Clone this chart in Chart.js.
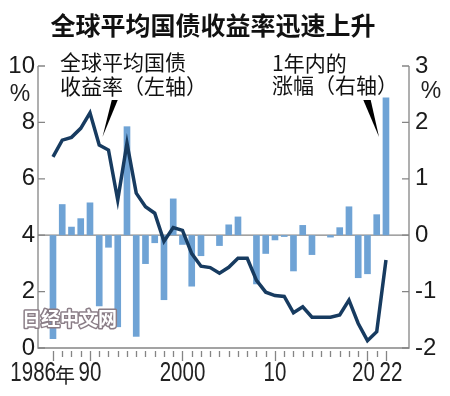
<!DOCTYPE html>
<html><head><meta charset="utf-8">
<script src="https://cdn.jsdelivr.net/npm/chart.js@4"></script>
<style>html,body{margin:0;padding:0;background:#fff}#wrap{width:450px;height:396px;position:relative}</style>
</head><body><div id="wrap"><canvas id="c" width="450" height="396"></canvas></div>
<script>
const years = [1986,1987,1988,1989,1990,1991,1992,1993,1994,1995,1996,1997,1998,1999,2000,2001,2002,2003,2004,2005,2006,2007,2008,2009,2010,2011,2012,2013,2014,2015,2016,2017,2018,2019,2020,2021,2022];
const yieldPct = [6.78,7.37,7.47,7.79,8.34,7.20,7.02,5.25,7.26,5.49,5.01,4.78,3.78,4.27,4.17,3.35,2.90,2.85,2.65,2.86,3.18,3.18,2.40,1.98,1.86,1.83,1.25,1.46,1.09,1.09,1.09,1.17,1.70,0.87,0.26,0.58,3.12];
const change = [-1.84,0.55,0.15,0.30,0.58,-1.26,-0.22,-1.63,1.93,-1.80,-0.51,-0.14,-1.15,0.65,-0.17,-0.91,-0.37,0,-0.19,0.19,0.33,0,-0.87,-0.33,-0.09,-0.03,-0.64,0.18,-0.35,0,-0.04,0.14,0.51,-0.76,-0.69,0.37,2.44];
const leftTicks = [0,2,4,6,8,10];
const rightTicks = [-2,-1,0,1,2,3];
const xLabelYears = [1986,1990,2000,2010,2020,2022];
const xLabelTexts = ['1986年','90','2000','10','20','22'];
const majorTickYears = [1986,1990,2000,2010,2020,2022];
const titleText = '全球平均国债收益率迅速上升';
const leftNote = ['全球平均国债','收益率（左轴）'];
const rightNote = ['1年内的','涨幅（右轴）'];
const watermark = '日经中文网';

const AXIS = '#858585';
const NUMFONT = '27px "Liberation Sans", sans-serif';
function condensedText(ctx, text, x, y, align, sx) {
  ctx.save();
  ctx.translate(x, y);
  ctx.scale(sx, 1);
  ctx.textAlign = align;
  ctx.fillText(text, 0, 0);
  ctx.restore();
}
const deco = {
  id: 'deco',
  beforeDatasetsDraw(chart) {
    const {ctx, chartArea: a, scales} = chart;
    const y0 = scales.y1.getPixelForValue(0);
    ctx.save();
    ctx.strokeStyle = AXIS; ctx.lineWidth = 1.3;
    ctx.beginPath(); ctx.moveTo(a.left, y0); ctx.lineTo(a.right, y0); ctx.stroke();
    ctx.restore();
  },
  afterDraw(chart) {
    const {ctx, chartArea: a, scales} = chart;
    const X = scales.x, Y = scales.y, Y1 = scales.y1;
    ctx.save();
    ctx.strokeStyle = AXIS; ctx.lineWidth = 1.3;
    ctx.beginPath();
    ctx.moveTo(a.left, a.top); ctx.lineTo(a.left, a.bottom); ctx.lineTo(a.right, a.bottom); ctx.lineTo(a.right, a.top);
    ctx.stroke();
    ctx.beginPath();
    leftTicks.forEach(v => { const p = Y.getPixelForValue(v); ctx.moveTo(a.left, p); ctx.lineTo(a.left + 7, p); });
    rightTicks.forEach(v => { const p = Y1.getPixelForValue(v); ctx.moveTo(a.right - 7, p); ctx.lineTo(a.right, p); });
    ctx.stroke();
    ctx.beginPath();
    years.forEach(yr => {
      const p = Math.round(X.getPixelForValue(yr)) + 0.5;
      const major = majorTickYears.includes(yr);
      ctx.moveTo(p, a.bottom + 3); ctx.lineTo(p, a.bottom + (major ? 13 : 9));
    });
    ctx.stroke();
    ctx.fillStyle = '#222';
    ctx.textBaseline = 'middle';
    const ly = a.bottom + 26;
    xLabelYears.forEach((yr, i) => {
      const p = X.getPixelForValue(yr);
      const t = xLabelTexts[i];
      ctx.font = NUMFONT;
      if (t.endsWith('年')) {
        condensedText(ctx, t.slice(0, -1), p + 3, ly, 'right', 0.76);
        ctx.font = '20px "Noto Sans CJK SC", sans-serif';
        ctx.textAlign = 'left';
        ctx.fillText('年', p + 2, ly + 1);
      } else {
        const nudge = (i === xLabelYears.length - 2) ? -4 : (i === xLabelYears.length - 1) ? 5 : 0;
        condensedText(ctx, t, p + nudge, ly, 'center', 0.76);
      }
    });
    ctx.font = '23px "Liberation Sans", sans-serif';
    ctx.textAlign = 'center';
    ctx.fillText('%', a.left - 18, a.top + 29);
    ctx.fillText('%', a.right + 22, a.top + 26);
    ctx.fillStyle = '#111';
    ctx.font = 'bold 25px "Noto Sans CJK SC", sans-serif';
    ctx.textAlign = 'center';
    ctx.fillText(titleText, 213, 25);
    ctx.font = '21px "Noto Sans CJK SC", sans-serif';
    ctx.textAlign = 'left';
    const lx = X.getPixelForValue(1986.75);
    ctx.fillText(leftNote[0], lx, a.top - 4);
    ctx.fillText(leftNote[1], lx, a.top + 20);
    const rx = X.getPixelForValue(2009.68);
    ctx.fillText(rightNote[0], rx, a.top - 3);
    ctx.fillText(rightNote[1], rx, a.top + 19);
    ctx.fillStyle = '#000';
    const wedge = (x1, x2, xt, yTop, yTip) => {
      ctx.beginPath();
      ctx.moveTo(X.getPixelForValue(x1), Y.getPixelForValue(yTop));
      ctx.lineTo(X.getPixelForValue(x2), Y.getPixelForValue(yTop));
      ctx.lineTo(X.getPixelForValue(xt), Y.getPixelForValue(yTip));
      ctx.closePath(); ctx.fill();
    };
    wedge(1992.35, 1993.0, 1991.35, 8.79, 7.48);
    wedge(2019.55, 2020.35, 2021.25, 8.79, 7.48);
    ctx.font = 'bold 19px "Noto Sans CJK SC", sans-serif';
    ctx.textAlign = 'left';
    ctx.lineWidth = 3; ctx.strokeStyle = '#8a7d86'; ctx.lineJoin = 'round';
    ctx.strokeText(watermark, 22, 319);
    ctx.fillStyle = '#fff';
    ctx.fillText(watermark, 22, 319);
    ctx.restore();
  }
};

new Chart(document.getElementById('c'), {
  type: 'bar',
  data: {
    datasets: [
      {
        type: 'line', label: 'yield', yAxisID: 'y', order: 0,
        data: years.map((yr, i) => ({x: yr, y: yieldPct[i]})),
        borderColor: '#173b60', borderWidth: 3.5, pointRadius: 0, tension: 0,
        borderJoinStyle: 'miter', fill: false
      },
      {
        type: 'bar', label: 'change', yAxisID: 'y1', order: 1,
        data: years.map((yr, i) => ({x: yr, y: change[i]})),
        backgroundColor: '#6fa3d5', borderWidth: 0,
        barPercentage: 0.9, categoryPercentage: 0.8
      }
    ]
  },
  options: {
    responsive: false, animation: false, devicePixelRatio: 1,
    layout: {padding: {top: 66, left: 0, right: 0, bottom: 0}},
    plugins: {legend: {display: false}, tooltip: {enabled: false}},
    scales: {
      x: {
        type: 'linear', min: 1984.38, max: 2024.49, offset: false,
        grid: {display: false, drawTicks: false, offset: false}, border: {display: false},
        ticks: {display: false},
        afterFit(s) { s.height = 48; }
      },
      y: {
        position: 'left', min: 0, max: 10,
        grid: {display: false, drawTicks: false}, border: {display: false},
        ticks: {stepSize: 2, padding: 3, color: '#1a1a1a', font: {family: '"Liberation Sans", sans-serif', size: 24}},
        afterBuildTicks(s) { s.ticks = leftTicks.map(v => ({value: v})); },
        afterFit(s) { s.width = 38; }
      },
      y1: {
        position: 'right', min: -2, max: 3,
        grid: {display: false, drawTicks: false}, border: {display: false},
        ticks: {stepSize: 1, padding: 6, color: '#1a1a1a', font: {family: '"Liberation Sans", sans-serif', size: 24},
          callback: v => (v < 0 ? '-' + Math.abs(v) : String(v))},
        afterBuildTicks(s) { s.ticks = rightTicks.map(v => ({value: v})); },
        afterFit(s) { s.width = 41; }
      }
    }
  },
  plugins: [deco]
});
</script></body></html>
